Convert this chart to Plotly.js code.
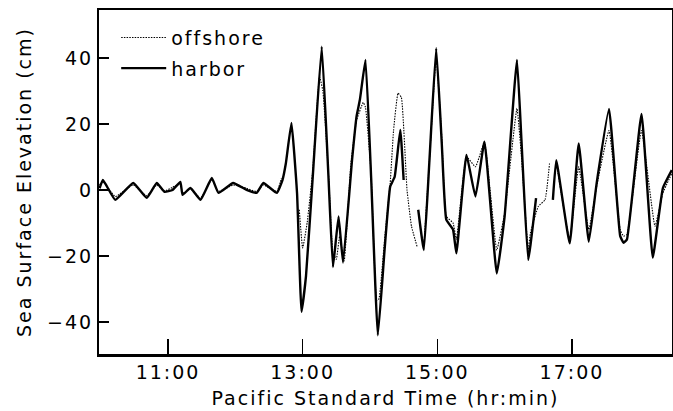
<!DOCTYPE html>
<html><head><meta charset="utf-8">
<script src="https://cdn.plot.ly/plotly-3.0.1.min.js"></script>
<style>
html,body{margin:0;padding:0;background:#fff;}
text{letter-spacing:2px;}
</style></head><body>
<div id="chart" style="width:673px;height:411px;"></div>
<script>
// Pacific Standard Time (hh:mm); null elevation = gap in the record
const harborTime = ["09:59","10:02","10:13","10:29","10:41","10:50","10:57","11:04","11:11","11:13","11:20","11:29","11:39","11:45","11:58","12:10","12:19","12:25","12:37","12:42","12:45","12:50","12:55","12:59","13:03","13:09","13:17","13:23","13:27","13:32","13:36","13:44","13:48","13:51","13:56","14:01","14:07","14:13","14:18","14:22","14:27","14:30","14:36","14:43","14:48","14:53","14:59","15:04","15:08","15:14","15:17","15:26","15:34","15:42","15:53","16:00","16:11","16:15","16:21","16:28","16:35","16:43","16:46","16:58","17:06","17:15","17:22","17:33","17:43","17:46","17:49","18:02","18:12","18:21","18:29"];
const harborElev = [0.5,3,-3,2.1,-2.4,2.1,-0.6,0,2.4,-1.5,0.6,-3,3.6,-0.9,2.1,0,-0.9,2.1,-0.9,3,8,20.3,-1,-36.9,-26,4,43.4,4,-23.4,-8,-22,9,22.2,27.3,39.4,4,-44,-18.2,1,4,18.2,3,null,-6,-18.2,9,42.9,14,-9,-12,-19.2,10.6,-2,14.6,-25.3,-8,39.4,15,-21.2,-2.5,null,-3,9,-16.2,14.1,-15.7,2,24.5,-14,-16,-15,23,-20.5,0.5,6];

const offshoreTime = ["09:59","10:02","10:13","10:29","10:41","10:50","10:57","11:04","11:11","11:12","11:13","11:20","11:29","11:39","11:45","11:58","12:10","12:19","12:25","12:37","12:41","12:50","12:57","13:00","13:04","13:09","13:15","13:18","13:23","13:27","13:30","13:33","13:37","13:43","13:48","13:54","13:56","14:01","14:06","14:08","14:13","14:18","14:21","14:25","14:28","14:33","14:37","14:42","14:45","14:48","14:53","14:59","15:04","15:08","15:14","15:17","15:26","15:34","15:42","15:47","15:53","16:00","16:11","16:15","16:21","16:23","16:30","16:36","16:40","16:43","16:46","16:58","17:06","17:15","17:22","17:33","17:43","17:46","17:49","18:02","18:14","18:21","18:29"];
const offshoreElev = [1.5,2.5,-2,1.5,-1.8,1.5,-0.3,0.8,2,null,-1.2,0.3,-2.5,3.2,-0.5,1.5,0.5,-0.5,1.5,-0.5,3.5,null,-6,-17.6,-10,6,34.3,30,5,-19,-21,-14,-21.5,8,21,26.5,25,5,-33.5,-33,-15,2,18,29.3,28,0,-11,-17.2,null,-17,9,40,16,-8,-10,-15,10,7,14.6,0,-18.2,-7,24.7,10,-18,-13,-5,-3,8,null,8.5,-15,7,-12,1,18,-12,-14,-13.5,18,-11,-1,5];

const xTickLabels = ["11:00","13:00","15:00","17:00"];
const yTickVals = [-40,-20,0,20,40];

function toHours(s){ const p = s.split(':').map(Number); return p[0] + p[1]/60; }

const font = {family: "DejaVu Sans", size: 19, color: "#000"};

const traces = [
  {x: offshoreTime.map(toHours), y: offshoreElev, type: "scatter", mode: "lines", name: "offshore",
   legendgroup: "a",
   line: {color: "#000", width: 1.1, dash: "1.5px,1.2px", shape: "spline", smoothing: 0.35}, connectgaps: false},
  {x: harborTime.map(toHours), y: harborElev, type: "scatter", mode: "lines", name: "harbor",
   legendgroup: "b",
   line: {color: "#000", width: 2.4, shape: "spline", smoothing: 0.35}, connectgaps: false}
];

const layout = {
  width: 673, height: 411,
  margin: {l: 99, r: 1, t: 10, b: 57},
  paper_bgcolor: "#fff", plot_bgcolor: "#fff",
  font: font,
  showlegend: true,
  legend: {x: 0.03, y: 0.975, xanchor: "left", yanchor: "top", bgcolor: "rgba(0,0,0,0)",
           font: font, itemwidth: 45, traceorder: "grouped", tracegroupgap: 3},
  xaxis: {
    range: [9.975, 18.486],
    tickvals: xTickLabels.map(toHours), ticktext: xTickLabels,
    ticks: "inside", ticklen: 15, tickwidth: 1.5, tickcolor: "#000",
    showline: true, linewidth: 2.5, linecolor: "#000", mirror: true,
    showgrid: false, zeroline: false,
    title: {text: "Pacific Standard Time (hr:min)", font: font, standoff: 10}
  },
  yaxis: {
    range: [-49.7, 54.5],
    tickvals: yTickVals,
    ticks: "inside", ticklen: 10, tickwidth: 1.5, tickcolor: "#000",
    showline: true, linewidth: 2, linecolor: "#000", mirror: true,
    showgrid: false, zeroline: false,
    title: {text: "Sea Surface Elevation (cm)", font: font, standoff: 10}
  }
};

Plotly.newPlot("chart", traces, layout, {displayModeBar: false, staticPlot: true});
</script>
</body></html>
